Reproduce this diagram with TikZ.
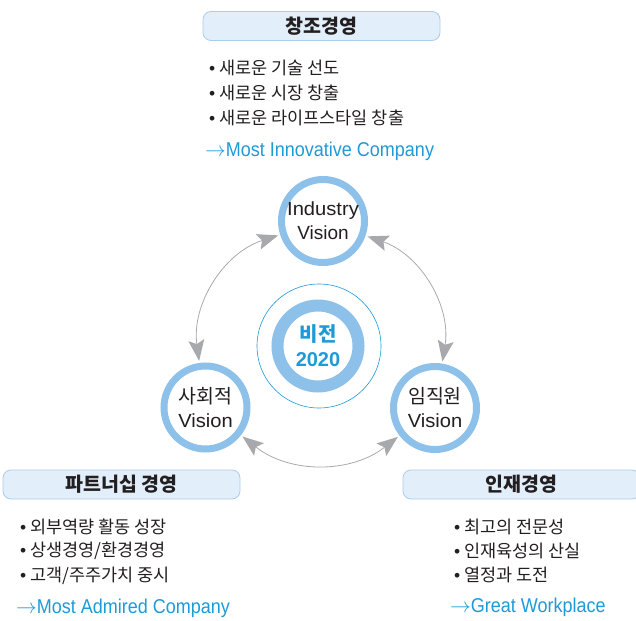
\documentclass[tikz,border=0pt]{standalone}
\usepackage{fontspec}
\setmainfont{Liberation Sans}
\newfontfamily\kr{Noto Sans CJK KR}
\usetikzlibrary{arrows.meta}
\definecolor{ringblue}{HTML}{8EC1E9}
\definecolor{boxfill}{HTML}{E2EEFA}
\definecolor{boxline}{HTML}{A9CDEC}
\definecolor{txtblue}{HTML}{1E9AD6}
\definecolor{txtdark}{HTML}{231F20}
\definecolor{arrgray}{HTML}{A7A9AC}
\newcommand{\goarrow}{$\rightarrow$}
\begin{document}
\begin{tikzpicture}[x=1pt,y=1pt,
  header/.style={draw=boxline, fill=boxfill, line width=0.8pt, rounded corners=8pt, inner sep=0pt,
    minimum width=237pt, minimum height=29pt, font=\kr\bfseries\fontsize{19.5}{22}\selectfont, text=txtdark},
  bullet/.style={anchor=west, inner sep=0pt, font=\kr\fontsize{17.5}{20}\selectfont, text=txtdark},
  motto/.style={anchor=west, inner sep=0pt, font=\fontsize{20}{22}\selectfont\addfontfeature{FakeStretch=0.9}, text=txtblue},
  vision/.style={circle, draw=ringblue, line width=7pt, fill=white, minimum size=83pt, inner sep=0pt,
    align=center, font=\fontsize{19}{24}\selectfont, text=txtdark},
  gtip/.tip={Stealth[length=21pt,width=16pt,inset=4pt,line width=0pt]},
  link/.style={draw=arrgray, line width=0.8pt, shorten <=2pt, shorten >=2pt, gtip-gtip}
]
\useasboundingbox (0,0) rectangle (636,-620);
\clip (0,0) rectangle (636,-620);

% headers
\node[header] (h1) at (321.5,-26) {창조경영};
\node[header] (h2) at (121.5,-484.5) {파트너십 경영};
\node[header] (h3) at (521.5,-484.5) {인재경영};

% top bullets
\node[bullet] (t1) at (209,-68) {{\normalfont •} 새로운 기술 선도};
\node[bullet] (t2) at (209,-93) {{\normalfont •} 새로운 시장 창출};
\node[bullet] (t3) at (209,-118) {{\normalfont •} 새로운 라이프스타일 창출};
\node[motto] (t4) at (205,-151) {\goarrow Most Innovative Company};

% left bullets
\node[bullet] (l1) at (20,-527) {{\normalfont •} 외부역량 활동 성장};
\node[bullet] (l2) at (20,-551) {{\normalfont •} 상생경영/환경경영};
\node[bullet] (l3) at (20,-576) {{\normalfont •} 고객/주주가치 중시};
\node[motto] (l4) at (16,-608) {\goarrow Most Admired Company};

% right bullets
\node[bullet] (r1) at (454,-527) {{\normalfont •} 최고의 전문성};
\node[bullet] (r2) at (454,-551) {{\normalfont •} 인재육성의 산실};
\node[bullet] (r3) at (454,-575) {{\normalfont •} 열정과 도전};
\node[motto] (r4) at (450,-607) {\goarrow Great Workplace};

% center
\node[circle, draw=txtblue, line width=0.6pt, minimum size=124pt, inner sep=0pt] (halo) at (319,-346) {};
\node[circle, draw=ringblue, line width=12pt, minimum size=81pt, inner sep=0pt, align=center,
  font=\bfseries\fontsize{20}{25}\selectfont, text=txtblue] (core) at (318,-346) {{\kr 비전}\\2020};

% vision circles
\node[vision] (ind) at (323,-221) {\addfontfeature{FakeStretch=1.06}Industry\\Vision};
\node[vision] (soc) at (205.5,-407.5) {{\kr\fontsize{19.5}{24}\selectfont 사회적}\\\addfontfeature{FakeStretch=1.06}Vision};
\node[vision] (imj) at (435,-408) {{\kr\fontsize{19.5}{24}\selectfont 임직원}\\\addfontfeature{FakeStretch=1.06}Vision};

% links
\draw[link] (ind) to[bend right=40] (soc);
\draw[link] (ind) to[bend left=40] (imj);
\draw[link] (soc) to[bend right=38] (imj);
\end{tikzpicture}
\end{document}
